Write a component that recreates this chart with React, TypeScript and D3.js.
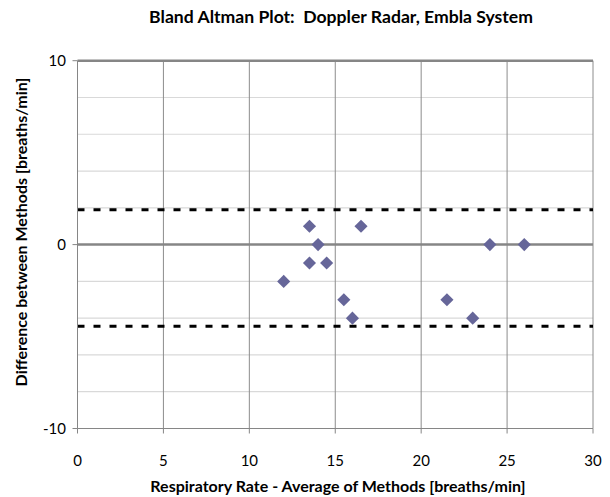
import React from "react";
import * as d3 from "d3";

const avgValues = [13.5, 16.5, 14, 13.5, 14.5, 12, 15.5, 16, 24, 26, 21.5, 23];
const diffValues = [1, 1, 0, -1, -1, -2, -3, -4, 0, 0, -3, -4];
const limitValues = [1.89, -4.44];
const xTicks = [0, 5, 10, 15, 20, 25, 30];
const yTicks = [-10, 0, 10];
const yMinor = [-8, -6, -4, -2, 2, 4, 6, 8];

const W = 610, H = 497;
const FONT = "Lato, 'Open Sans', sans-serif";

export default function App() {
  const x = d3.scaleLinear().domain([0, 30]).range([77.5, 593]);
  const y = d3.scaleLinear().domain([-10, 10]).range([428.5, 60.7]);
  const diamond = d3.symbol().type(d3.symbolDiamond2).size(110)();
  return (
    <svg width={W} height={H} style={{ position: "absolute", left: 0, top: 0 }}>
      <rect width={W} height={H} fill="#fff" />
      <text x={341} y={23} textAnchor="middle" fontFamily={FONT} fontWeight="bold" fontSize={17.6} fill="#000" style={{ whiteSpace: "pre" }}>
        {"Bland Altman Plot:  Doppler Radar, Embla System"}
      </text>
      {yMinor.map((v) => (
        <line key={"m" + v} x1={x(0)} x2={x(30)} y1={y(v)} y2={y(v)} stroke="#d9d9d9" strokeWidth={1.2} />
      ))}
      {xTicks.filter((v) => v > 0).map((v) => (
        <line key={"v" + v} x1={x(v)} x2={x(v)} y1={y(10)} y2={y(-10)} stroke="#8c8c8c" strokeWidth={1} />
      ))}
      <line x1={x(0)} x2={x(30)} y1={y(10)} y2={y(10)} stroke="#868686" strokeWidth={2.5} />
      <line x1={x(0)} x2={x(30)} y1={y(0)} y2={y(0)} stroke="#868686" strokeWidth={2.5} />
      {limitValues.map((v) => (
        <line key={"l" + v} x1={x(0)} x2={x(30)} y1={y(v)} y2={y(v)} stroke="#000" strokeWidth={3} strokeDasharray="7 9" />
      ))}
      <line x1={x(0)} x2={x(0)} y1={y(10)} y2={y(-10)} stroke="#868686" strokeWidth={1} />
      <line x1={x(0)} x2={x(30)} y1={y(-10)} y2={y(-10)} stroke="#868686" strokeWidth={1} />
      {xTicks.map((v) => (
        <g key={"xt" + v}>
          <line x1={x(v)} x2={x(v)} y1={y(-10)} y2={y(-10) + 5} stroke="#868686" />
          <text x={x(v)} y={466} textAnchor="middle" fontFamily={FONT} fontSize={15} fill="#000">{v}</text>
        </g>
      ))}
      {yTicks.map((v) => (
        <g key={"yt" + v}>
          <line x1={x(0) - 5} x2={x(0)} y1={y(v)} y2={y(v)} stroke="#868686" />
          <text x={66} y={y(v) + 5} textAnchor="end" fontFamily={FONT} fontSize={15} fill="#000">{v}</text>
        </g>
      ))}
      {avgValues.map((a, i) => (
        <path key={"p" + i} d={diamond as string} transform={`translate(${x(a)},${y(diffValues[i])})`} fill="#666699" />
      ))}
      <text x={338} y={492} textAnchor="middle" fontFamily={FONT} fontWeight="bold" fontSize={16} fill="#000">
        Respiratory Rate - Average of Methods [breaths/min]
      </text>
      <text transform={`translate(27,${232}) rotate(-90)`} textAnchor="middle" fontFamily={FONT} fontWeight="bold" fontSize={16} fill="#000">
        Difference between Methods [breaths/min]
      </text>
    </svg>
  );
}
